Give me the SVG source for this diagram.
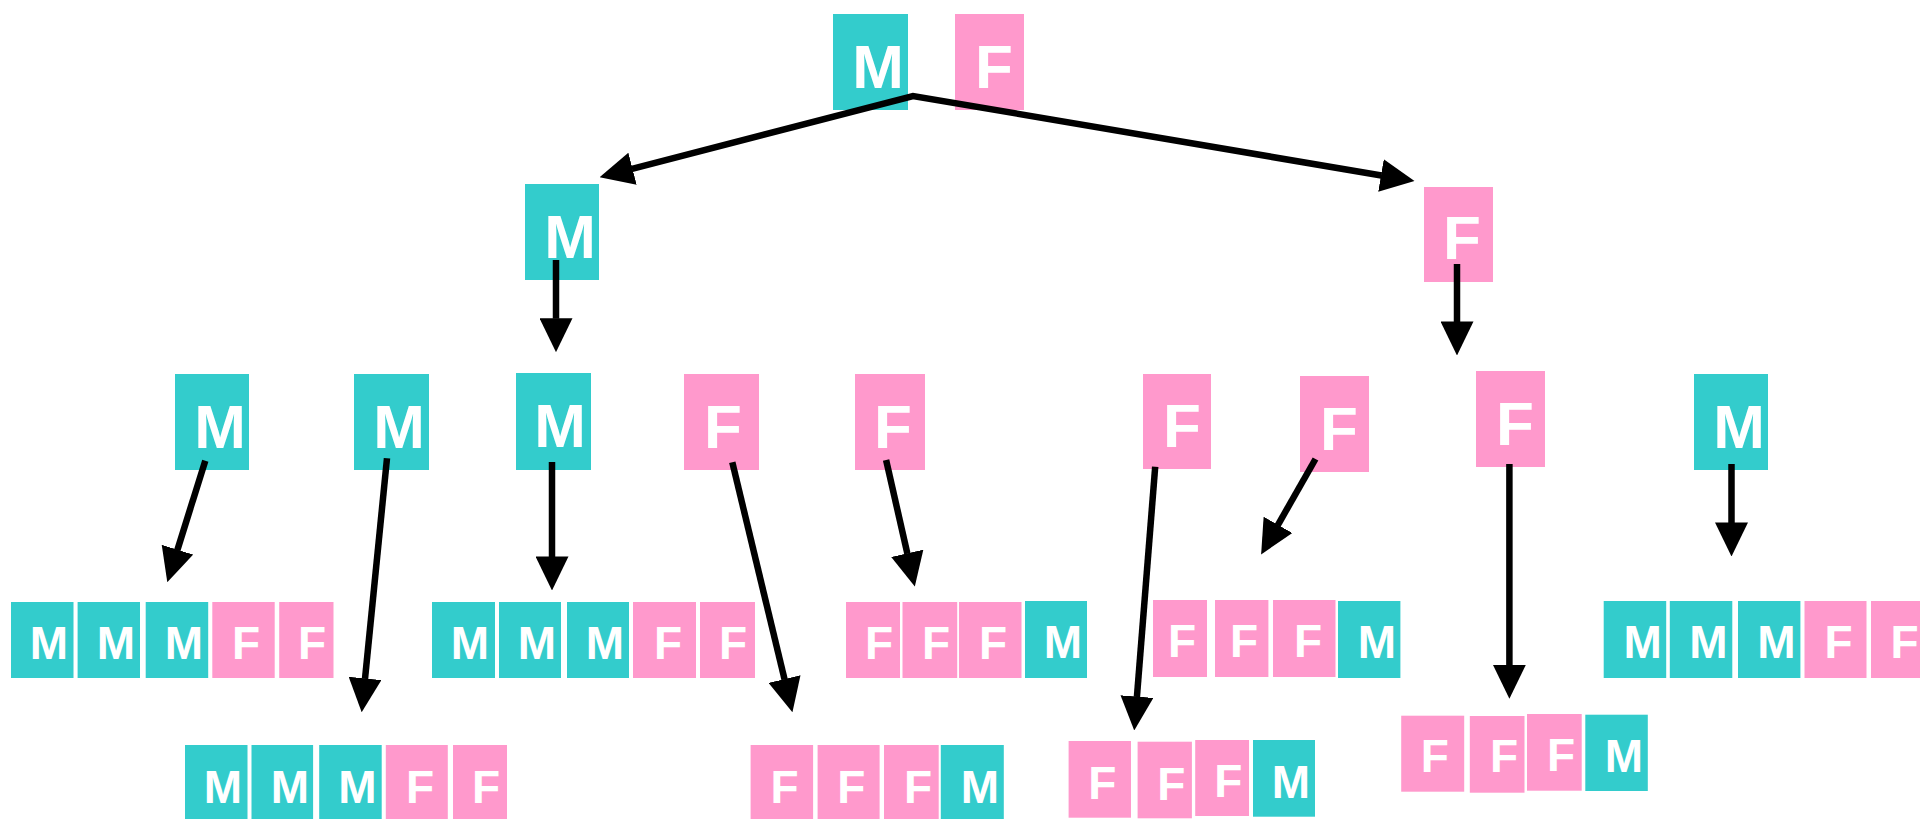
<svg xmlns="http://www.w3.org/2000/svg" width="1920" height="819" viewBox="0 0 1920 819">
<style>
.m{fill:#33cccc}
.f{fill:#ff99cc}
.t{font-family:"Liberation Sans",Arial,sans-serif;font-weight:bold;fill:#ffffff;text-anchor:middle}
.b{font-size:62px}
.s{font-size:46px}
.c{fill:none;stroke:#000;stroke-width:6.5;marker-end:url(#ah)}
</style>
<defs>
<marker id="ah" markerUnits="userSpaceOnUse" markerWidth="34" markerHeight="33" viewBox="0 0 33 32" refX="0.5" refY="16" orient="auto-start-reverse">
<path d="M0,0 L33,16 L0,32 z" fill="#000"/>
</marker>
</defs>
<rect width="1920" height="819" fill="#ffffff"/>

<g id="n0m"><rect class="m" x="833" y="14" width="75" height="96"/><text class="t b" x="878" y="88">M</text></g>
<g id="n0f"><rect class="f" x="955" y="14" width="69" height="96"/><text class="t b" x="994" y="88">F</text></g>

<g id="n1m"><rect class="m" x="525" y="184" width="74" height="96"/><text class="t b" x="570" y="258">M</text></g>
<g id="n1f"><rect class="f" x="1424" y="187" width="69" height="95"/><text class="t b" x="1462" y="259">F</text></g>

<g id="n2a"><rect class="m" x="175" y="374" width="74" height="96"/><text class="t b" x="220" y="448">M</text></g>
<g id="n2b"><rect class="m" x="354" y="374" width="75" height="96"/><text class="t b" x="399" y="448">M</text></g>
<g id="n2c"><rect class="m" x="516" y="373" width="75" height="97"/><text class="t b" x="560" y="447">M</text></g>
<g id="n2d"><rect class="f" x="684" y="374" width="75" height="96"/><text class="t b" x="723" y="448">F</text></g>
<g id="n2e"><rect class="f" x="855" y="374" width="70" height="96"/><text class="t b" x="893" y="448">F</text></g>
<g id="n2f"><rect class="f" x="1143" y="374" width="68" height="95"/><text class="t b" x="1182" y="447">F</text></g>
<g id="n2g"><rect class="f" x="1300" y="376" width="69" height="96"/><text class="t b" x="1339" y="450">F</text></g>
<g id="n2h"><rect class="f" x="1476" y="371" width="69" height="96"/><text class="t b" x="1515" y="445">F</text></g>
<g id="n2i"><rect class="m" x="1694" y="374" width="74" height="96"/><text class="t b" x="1739" y="448">M</text></g>

<g id="gA">
<rect class="m" x="11" y="602" width="62.5" height="76"/><text class="t s" x="49" y="659">M</text>
<rect class="m" x="77.6" y="602" width="62.4" height="76"/><text class="t s" x="116" y="659">M</text>
<rect class="m" x="145.7" y="602" width="62.5" height="76"/><text class="t s" x="184" y="659">M</text>
<rect class="f" x="212.3" y="602" width="62.4" height="76"/><text class="t s" x="246" y="659">F</text>
<rect class="f" x="279.2" y="602" width="54.3" height="76"/><text class="t s" x="312" y="659">F</text>
</g>
<g id="gB">
<rect class="m" x="432" y="602" width="63" height="76"/><text class="t s" x="470" y="659">M</text>
<rect class="m" x="499" y="602" width="62" height="76"/><text class="t s" x="537" y="659">M</text>
<rect class="m" x="567" y="602" width="62" height="76"/><text class="t s" x="605" y="659">M</text>
<rect class="f" x="633" y="602" width="63" height="76"/><text class="t s" x="668" y="659">F</text>
<rect class="f" x="700" y="602" width="55" height="76"/><text class="t s" x="733" y="659">F</text>
</g>
<g id="gC">
<rect class="f" x="846" y="602" width="54" height="76"/><text class="t s" x="879" y="659">F</text>
<rect class="f" x="902.5" y="602" width="54.7" height="76"/><text class="t s" x="936" y="659">F</text>
<rect class="f" x="959" y="602" width="62.5" height="76"/><text class="t s" x="993" y="659">F</text>
<rect class="m" x="1025" y="601" width="62" height="77"/><text class="t s" x="1063" y="658">M</text>
</g>
<g id="gD">
<rect class="f" x="1153" y="600" width="54" height="77"/><text class="t s" x="1182" y="657">F</text>
<rect class="f" x="1215" y="600" width="53.4" height="77"/><text class="t s" x="1244" y="657">F</text>
<rect class="f" x="1273" y="600" width="62.5" height="77"/><text class="t s" x="1308" y="657">F</text>
<rect class="m" x="1338" y="601" width="62.4" height="77"/><text class="t s" x="1377" y="658">M</text>
</g>
<g id="gE">
<rect class="m" x="1603.7" y="601" width="62.5" height="77"/><text class="t s" x="1642.7" y="658">M</text>
<rect class="m" x="1669.8" y="601" width="62.5" height="77"/><text class="t s" x="1708.5" y="658">M</text>
<rect class="m" x="1738" y="601" width="62.4" height="77"/><text class="t s" x="1776.5" y="658">M</text>
<rect class="f" x="1804.5" y="601" width="62" height="77"/><text class="t s" x="1838.5" y="658">F</text>
<rect class="f" x="1871" y="601" width="62" height="77"/><text class="t s" x="1904.5" y="658">F</text>
</g>

<g id="gF">
<rect class="m" x="185" y="745" width="62.5" height="76"/><text class="t s" x="223" y="803">M</text>
<rect class="m" x="251.5" y="745" width="61.6" height="76"/><text class="t s" x="290" y="803">M</text>
<rect class="m" x="319.2" y="745" width="62.5" height="76"/><text class="t s" x="357.5" y="803">M</text>
<rect class="f" x="385.8" y="745" width="62" height="76"/><text class="t s" x="420" y="803">F</text>
<rect class="f" x="453" y="745" width="54" height="76"/><text class="t s" x="486" y="803">F</text>
</g>
<g id="gG">
<rect class="f" x="750.6" y="745" width="62.5" height="76"/><text class="t s" x="784.5" y="803">F</text>
<rect class="f" x="817.6" y="745" width="62" height="76"/><text class="t s" x="851.3" y="803">F</text>
<rect class="f" x="884" y="745" width="54.7" height="76"/><text class="t s" x="918" y="803">F</text>
<rect class="m" x="940.8" y="745" width="63" height="76"/><text class="t s" x="980" y="803">M</text>
</g>
<g id="gH">
<rect class="f" x="1068.6" y="741" width="62.4" height="76.7"/><text class="t s" x="1102.3" y="799">F</text>
<rect class="f" x="1137.6" y="741.7" width="54.3" height="76.6"/><text class="t s" x="1171.3" y="799.5">F</text>
<rect class="f" x="1195.2" y="740" width="53.8" height="76"/><text class="t s" x="1228.3" y="797">F</text>
<rect class="m" x="1253" y="740" width="62" height="76.7"/><text class="t s" x="1291" y="797.5">M</text>
</g>
<g id="gI">
<rect class="f" x="1401.2" y="715.7" width="63" height="76"/><text class="t s" x="1434.7" y="772.3">F</text>
<rect class="f" x="1469.8" y="716" width="54.7" height="76.7"/><text class="t s" x="1504" y="772.3">F</text>
<rect class="f" x="1527" y="714" width="54.7" height="76.7"/><text class="t s" x="1561" y="770.7">F</text>
<rect class="m" x="1585.3" y="714.7" width="62.5" height="76.3"/><text class="t s" x="1623.8" y="771.7">M</text>
</g>

<g id="connectors">
<path class="c" d="M632,168.8 L913,96 L1381.5,175.5" style="marker-start:url(#ah)"/>
<path class="c" d="M556,260 L556,318.7"/>
<path class="c" d="M1457,264 L1457,322"/>
<path class="c" d="M205.3,460.7 L177.3,550.2"/>
<path class="c" d="M387,458.3 L365,678.9"/>
<path class="c" d="M552,462 L552,557"/>
<path class="c" d="M732.3,462.3 L784.6,679.6"/>
<path class="c" d="M886.1,460 L907.4,553.8"/>
<path class="c" d="M1155.2,466.7 L1136.9,697.1"/>
<path class="c" d="M1315.5,459 L1277.7,525.3"/>
<path class="c" d="M1509.4,464 L1509.4,665.3"/>
<path class="c" d="M1731.5,464 L1731.5,523"/>
</g>
</svg>
